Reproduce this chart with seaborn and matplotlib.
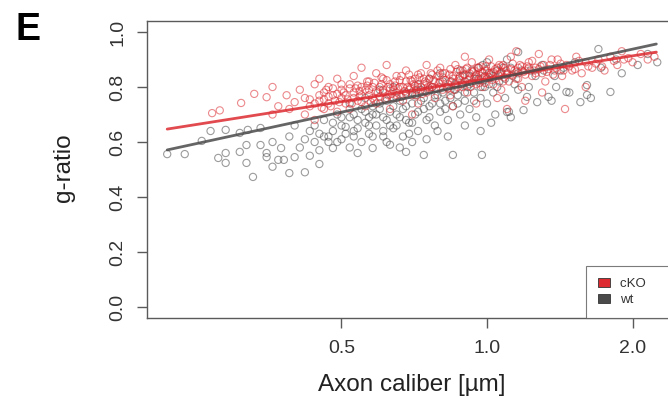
import numpy as np
import pandas as pd
import matplotlib
matplotlib.use("Agg")
import matplotlib.pyplot as plt
from matplotlib.patches import Patch
import seaborn as sns

# ---------------- data ----------------
cko_caliber = [0.27, 0.28, 0.31, 0.33, 0.35, 0.36, 0.37, 0.385, 0.39, 0.40, 0.41, 0.42, 0.42, 0.43, 0.44, 0.44,
               0.45, 0.46, 0.46, 0.47, 0.47, 0.48, 0.49, 0.49, 0.50, 0.50, 0.51, 0.52, 0.52, 0.53, 0.53, 0.54,
               0.55, 0.55, 0.56, 0.57, 0.57, 0.58, 0.59, 0.59, 0.60, 0.61, 0.61, 0.62, 0.63, 0.63, 0.64, 0.65,
               0.65, 0.66, 0.67, 0.68, 0.68, 0.69, 0.70, 0.71, 0.72, 0.72, 0.73, 0.74, 0.75, 0.75, 0.76, 0.77,
               0.78, 0.79, 0.80, 0.80, 0.81, 0.82, 0.83, 0.84, 0.85, 0.86, 0.87, 0.88, 0.89, 0.90, 0.91, 0.92,
               0.93, 0.94, 0.95, 0.96, 0.97, 0.98, 0.99, 1.00, 1.01, 1.02, 1.03, 1.05, 1.06, 1.07, 1.08, 1.10,
               1.11, 1.12, 1.14, 1.15, 1.17, 1.18, 1.20, 1.22, 1.24, 1.26, 1.28, 1.30, 1.32, 1.35, 1.38, 1.40,
               1.43, 1.46, 1.50, 1.53, 1.57, 1.60, 1.65, 1.70, 1.75, 1.80, 1.86, 1.92, 2.00, 2.08, 2.15, 2.22,
               0.95, 1.05, 1.30, 1.45, 0.85, 0.70, 1.20, 1.60, 1.10,
               0.36, 0.45, 0.55, 0.62, 0.90, 1.15, 1.90]
cko_gratio = [0.705, 0.715, 0.742, 0.775, 0.763, 0.70, 0.73, 0.77, 0.72, 0.745, 0.79, 0.70, 0.76, 0.73, 0.81, 0.68,
              0.75, 0.78, 0.72, 0.80, 0.74, 0.77, 0.71, 0.83, 0.76, 0.79, 0.74, 0.81, 0.72, 0.78, 0.84, 0.75,
              0.80, 0.77, 0.73, 0.82, 0.79, 0.76, 0.85, 0.74, 0.80, 0.78, 0.83, 0.76, 0.81, 0.72, 0.79, 0.84,
              0.77, 0.80, 0.75, 0.82, 0.86, 0.79, 0.77, 0.83, 0.80, 0.74, 0.85, 0.81, 0.78, 0.88, 0.83, 0.80,
              0.76, 0.84, 0.82, 0.87, 0.79, 0.85, 0.81, 0.77, 0.83, 0.88, 0.80, 0.84, 0.86, 0.82, 0.78, 0.85,
              0.89, 0.83, 0.81, 0.87, 0.84, 0.80, 0.86, 0.83, 0.90, 0.85, 0.81, 0.87, 0.84, 0.79, 0.88, 0.85,
              0.82, 0.91, 0.86, 0.83, 0.88, 0.80, 0.86, 0.89, 0.84, 0.87, 0.92, 0.85, 0.82, 0.88, 0.86, 0.90,
              0.84, 0.88, 0.86, 0.91, 0.85, 0.89, 0.87, 0.90, 0.86, 0.91, 0.88, 0.90, 0.89, 0.92, 0.90, 0.91,
              0.74, 0.76, 0.78, 0.72, 0.73, 0.70, 0.75, 0.80, 0.72,
              0.80, 0.83, 0.87, 0.88, 0.91, 0.93, 0.93]

cko_core_caliber = [0.505, 0.515, 0.535, 0.545, 0.565, 0.575, 0.585, 0.595, 0.605, 0.615, 0.625, 0.635, 0.645,
                    0.655, 0.665, 0.675, 0.685, 0.695, 0.705, 0.715, 0.725, 0.735, 0.745, 0.755, 0.765, 0.775,
                    0.785, 0.795, 0.81, 0.825, 0.835, 0.845, 0.855, 0.865, 0.875, 0.885, 0.895, 0.905, 0.915,
                    0.925, 0.935, 0.945, 0.955, 0.965, 0.975, 0.985, 0.995, 1.015, 1.025, 1.04, 1.055, 1.07,
                    1.085, 1.095, 1.13, 1.16, 1.19, 1.21, 1.25, 1.29, 1.34, 1.37,
                    0.43, 0.44, 0.45, 0.455, 0.46, 0.465, 0.47, 0.475, 0.48, 0.485, 0.49, 0.495, 0.50, 0.51,
                    0.52, 0.525, 0.53, 0.54, 0.545, 0.55, 0.56, 0.565, 0.57, 0.58, 0.585, 0.59, 0.60, 0.605,
                    0.61, 0.62, 0.625, 0.63, 0.64, 0.645, 0.65, 0.66, 0.665, 0.67, 0.68, 0.69, 0.695, 0.70,
                    0.71, 0.715, 0.72, 0.73, 0.74, 0.745, 0.75, 0.76, 0.77, 0.78, 0.79, 0.80, 0.81, 0.82,
                    0.83, 0.84, 0.85, 0.86, 0.87, 0.88, 0.89, 0.90, 0.91, 0.92, 0.93, 0.94, 0.95, 0.96, 0.97,
                    0.98, 0.99, 1.00, 1.01, 1.02, 1.03, 1.04, 1.06, 1.07, 1.08, 1.09, 1.10, 1.12, 1.13, 1.15,
                    1.16, 1.18, 1.20, 1.22, 1.24, 1.26, 1.28, 1.31, 1.33, 1.36, 1.39, 1.42, 1.44, 1.48, 1.52,
                    1.55, 1.62, 1.68, 1.73, 1.83, 1.96]
cko_core_gratio = [0.78, 0.755, 0.795, 0.765, 0.805, 0.745, 0.815, 0.78, 0.835, 0.755, 0.80, 0.775, 0.82,
                   0.795, 0.84, 0.785, 0.80, 0.825, 0.81, 0.79, 0.835, 0.775, 0.82, 0.80, 0.85, 0.825,
                   0.795, 0.815, 0.835, 0.80, 0.845, 0.82, 0.79, 0.855, 0.83, 0.81, 0.845, 0.865, 0.825,
                   0.80, 0.855, 0.84, 0.87, 0.815, 0.855, 0.835, 0.875, 0.845, 0.825, 0.865, 0.845, 0.875,
                   0.835, 0.86, 0.845, 0.87, 0.855, 0.875, 0.86, 0.875, 0.865, 0.845,
                   0.755, 0.74, 0.77, 0.725, 0.755, 0.79, 0.765, 0.73, 0.795, 0.75, 0.775, 0.745, 0.81, 0.77,
                   0.795, 0.74, 0.76, 0.805, 0.785, 0.745, 0.79, 0.82, 0.77, 0.80, 0.75, 0.785, 0.765, 0.81,
                   0.79, 0.825, 0.77, 0.795, 0.76, 0.805, 0.78, 0.825, 0.765, 0.80, 0.775, 0.845, 0.795, 0.82,
                   0.805, 0.77, 0.845, 0.80, 0.83, 0.785, 0.815, 0.795, 0.845, 0.82, 0.86, 0.80, 0.85, 0.825,
                   0.795, 0.865, 0.84, 0.815, 0.865, 0.825, 0.80, 0.845, 0.87, 0.83, 0.815, 0.86, 0.845, 0.825, 0.875,
                   0.85, 0.815, 0.86, 0.835, 0.875, 0.855, 0.83, 0.88, 0.855, 0.82, 0.87, 0.845, 0.865, 0.885, 0.855,
                   0.83, 0.875, 0.845, 0.87, 0.895, 0.85, 0.865, 0.88, 0.855, 0.90, 0.87, 0.885, 0.86, 0.875, 0.865,
                   0.895, 0.875, 0.885, 0.875, 0.895, 0.905]

wt_caliber = [0.218, 0.237, 0.257, 0.268, 0.278, 0.288, 0.288, 0.288, 0.308, 0.308, 0.318, 0.318, 0.328, 0.32,
              0.34, 0.34, 0.35, 0.35, 0.36, 0.37, 0.375, 0.38, 0.39, 0.39, 0.40, 0.40, 0.41, 0.42, 0.43, 0.43,
              0.44, 0.45, 0.45, 0.46, 0.47, 0.47, 0.48, 0.48, 0.49, 0.50, 0.50, 0.51, 0.52, 0.52, 0.53, 0.54,
              0.55, 0.55, 0.56, 0.57, 0.58, 0.58, 0.59, 0.60, 0.61, 0.62, 0.63, 0.64, 0.65, 0.66, 0.67, 0.68,
              0.69, 0.70, 0.71, 0.72, 0.73, 0.74, 0.74, 0.75, 0.76, 0.77, 0.78, 0.79, 0.80, 0.81, 0.82, 0.83,
              0.84, 0.85, 0.85, 0.86, 0.87, 0.88, 0.89, 0.90, 0.91, 0.92, 0.93, 0.94, 0.95, 0.96, 0.97, 0.976,
              0.98, 0.99, 1.00, 1.01, 1.03, 1.04, 1.06, 1.08, 1.09, 1.11, 1.13, 1.16, 1.19, 1.21, 1.23, 1.27,
              1.30, 1.34, 1.36, 1.39, 1.42, 1.46, 1.48, 1.52, 1.56, 1.61, 1.61, 1.64, 1.70, 1.72, 1.80, 1.85,
              1.90, 2.05, 2.15, 2.25, 1.10, 1.16,
              0.52, 0.56, 0.60, 0.64, 0.68, 0.72, 0.76, 0.80, 0.84, 0.88, 0.92, 0.96, 1.00, 1.05, 1.10, 1.16,
              0.62, 0.66, 0.70, 0.54, 0.45, 0.42, 0.36, 0.58, 0.63, 0.69, 0.75, 0.79, 0.83, 0.90, 0.97, 1.02,
              1.12, 0.68]
wt_gratio = [0.556, 0.556, 0.604, 0.64, 0.542, 0.56, 0.524, 0.644, 0.564, 0.633, 0.589, 0.524, 0.473, 0.644,
             0.651, 0.589, 0.56, 0.545, 0.60, 0.535, 0.578, 0.535, 0.487, 0.62, 0.545, 0.66, 0.58, 0.61, 0.55, 0.64,
             0.60, 0.63, 0.57, 0.68, 0.60, 0.62, 0.64, 0.578, 0.70, 0.61, 0.66, 0.63, 0.58, 0.69, 0.62, 0.65,
             0.60, 0.72, 0.67, 0.63, 0.578, 0.70, 0.66, 0.74, 0.62, 0.68, 0.71, 0.65, 0.76, 0.69, 0.62, 0.73,
             0.67, 0.78, 0.70, 0.64, 0.75, 0.553, 0.72, 0.68, 0.79, 0.74, 0.66, 0.77, 0.71, 0.82, 0.75, 0.68,
             0.79, 0.553, 0.73, 0.81, 0.77, 0.70, 0.84, 0.75, 0.80, 0.72, 0.86, 0.78, 0.69, 0.83, 0.76, 0.553,
             0.88, 0.80, 0.74, 0.85, 0.78, 0.70, 0.82, 0.87, 0.76, 0.71, 0.84, 0.79, 0.716, 0.764, 0.86, 0.745,
             0.88, 0.764, 0.75, 0.80, 0.86, 0.782, 0.78, 0.89, 0.745, 0.807, 0.771, 0.76, 0.938, 0.87, 0.782, 0.90,
             0.85, 0.88, 0.92, 0.89, 0.709, 0.927,
             0.74, 0.76, 0.79, 0.80, 0.78, 0.81, 0.83, 0.85, 0.82, 0.86, 0.84, 0.87, 0.89, 0.86, 0.90, 0.85,
             0.60, 0.58, 0.60, 0.56, 0.52, 0.49, 0.51, 0.62, 0.59, 0.63, 0.61, 0.64, 0.62, 0.66, 0.64, 0.67,
             0.69, 0.564]

wt_core_caliber = [0.44, 0.46, 0.48, 0.50, 0.51, 0.53, 0.54, 0.56, 0.57, 0.58, 0.59, 0.60, 0.61, 0.62, 0.63,
                   0.64, 0.65, 0.66, 0.67, 0.68, 0.70, 0.71, 0.72, 0.73, 0.74, 0.76, 0.77, 0.78, 0.80, 0.81,
                   0.82, 0.84, 0.86, 0.87, 0.89, 0.90, 0.92, 0.94, 0.95, 0.97, 0.99, 1.01, 1.03, 1.05, 1.07,
                   1.09, 1.12, 1.14, 1.18, 1.22, 1.26, 1.31, 1.38, 1.44, 0.49, 0.53, 0.57, 0.61, 0.65, 0.70,
                   0.76]
wt_core_gratio = [0.66, 0.62, 0.67, 0.69, 0.655, 0.70, 0.68, 0.71, 0.69, 0.73, 0.70, 0.72, 0.69, 0.75, 0.66,
                  0.73, 0.70, 0.75, 0.72, 0.68, 0.74, 0.77, 0.71, 0.79, 0.76, 0.73, 0.80, 0.77, 0.74, 0.78,
                  0.72, 0.76, 0.79, 0.74, 0.81, 0.78, 0.81, 0.75, 0.83, 0.80, 0.84, 0.81, 0.84, 0.80, 0.85,
                  0.83, 0.87, 0.81, 0.86, 0.80, 0.84, 0.86, 0.84, 0.87, 0.60, 0.64, 0.66, 0.64, 0.66, 0.67,
                  0.69]

groups = ["cKO", "wt"]
# linear fits of g-ratio on log2(caliber)
fit_intercept = [0.830, 0.823]
fit_slope = [0.0833, 0.1146]
fit_range = [0.218, 2.24]

# ---------------- style ----------------
sns.set_theme(style="white")
plt.rcParams["font.family"] = ["Liberation Sans", "DejaVu Sans"]

red = "#DC2A30"
gray = "#4A4A4A"
frame = "#5A5A5A"

fig = plt.figure(figsize=(6.68, 3.98), dpi=100)
ax = fig.add_axes([147 / 668, 80 / 398, (676 - 147) / 668, (318 - 21) / 398])

wt_df = pd.DataFrame({"caliber": wt_caliber + wt_core_caliber, "gratio": wt_gratio + wt_core_gratio})
cko_df = pd.DataFrame({"caliber": cko_caliber + cko_core_caliber, "gratio": cko_gratio + cko_core_gratio})

for df, col in [(wt_df, gray), (cko_df, red)]:
    sns.scatterplot(data=df, x="caliber", y="gratio", ax=ax, s=27, marker="o",
                    legend=False, zorder=2)
    coll = ax.collections[-1]
    coll.set_facecolor("none")
    coll.set_edgecolor(col)
    coll.set_linewidth(0.8)
    coll.set_alpha(0.55)

for i, col in enumerate([red, gray]):
    xs = np.array(fit_range)
    ys = fit_intercept[i] + fit_slope[i] * np.log2(xs)
    sns.lineplot(x=xs, y=ys, ax=ax, color=col, linewidth=2.0, alpha=0.85, zorder=3)

ax.set_xscale("log")
ax.set_xlim(0.198, 2.46)
ax.set_ylim(-0.04, 1.04)
ax.set_xticks([0.5, 1.0, 2.0])
ax.set_xticklabels(["0.5", "1.0", "2.0"])
ax.xaxis.set_minor_locator(matplotlib.ticker.NullLocator())
ax.set_yticks([0.0, 0.2, 0.4, 0.6, 0.8, 1.0])
ax.set_yticklabels(["0.0", "0.2", "0.4", "0.6", "0.8", "1.0"], rotation=90, va="center")

for sp in ax.spines.values():
    sp.set_visible(True)
    sp.set_color(frame)
    sp.set_linewidth(1.0)

ax.tick_params(axis="both", which="major", direction="out", length=7, width=1.0,
               color=frame, labelsize=14, labelcolor="#333333", bottom=True, left=True)
ax.tick_params(axis="y", pad=8)
ax.tick_params(axis="x", pad=9)

ax.set_xlabel("Axon caliber [\u00b5m]", fontsize=17.5, color="#222222")
ax.set_ylabel("g-ratio", fontsize=17.5, color="#222222")
ax.xaxis.set_label_coords(0.5, -0.19)
ax.yaxis.set_label_coords(-0.136, 0.505)

# R-style legend box, wider on the right than the entries need
handles = [Patch(facecolor=red, edgecolor="#333333", linewidth=0.6, label="cKO     "),
           Patch(facecolor=gray, edgecolor="#333333", linewidth=0.6, label="wt     ")]
leg = ax.legend(handles=handles, loc="lower right", borderaxespad=0, fontsize=9.5,
                frameon=True, fancybox=False, handlelength=0.9, handleheight=0.7,
                handletextpad=0.8, labelspacing=0.3, borderpad=0.9)
leg.get_frame().set_edgecolor(frame)
leg.get_frame().set_linewidth(0.8)
for t in leg.get_texts():
    t.set_color("#333333")

fig.text(15 / 668, 1 - 40 / 398, "E", fontsize=27, fontweight="bold", color="black")

fig.savefig("out.png", dpi=100)
